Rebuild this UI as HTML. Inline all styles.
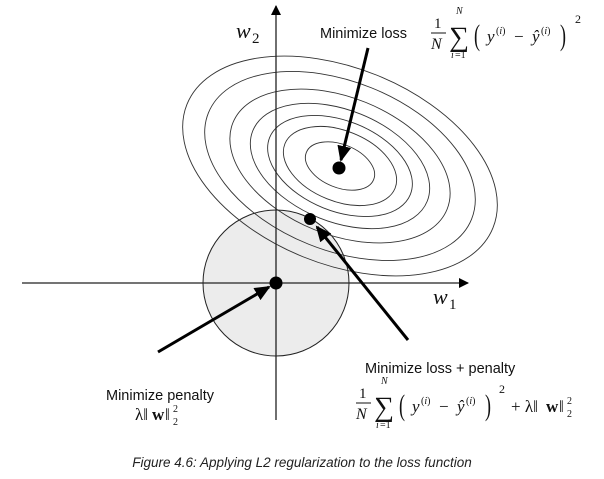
<!DOCTYPE html>
<html><head><meta charset="utf-8"><style>
html,body{margin:0;padding:0;background:#fff;width:604px;height:479px;overflow:hidden}
svg{display:block}
.s{font-family:"Liberation Sans",sans-serif;font-size:14.5px;fill:#111}
.m{font-family:"Liberation Serif",serif;fill:#111}
.i{font-style:italic}
</style></head><body>
<svg width="604" height="479" viewBox="0 0 604 479">
<defs>
<marker id="ah" markerWidth="10" markerHeight="10" refX="9" refY="5" orient="auto" markerUnits="userSpaceOnUse"><path d="M0,0 L10,5 L0,10 z" fill="#000"/></marker>
<marker id="big" markerWidth="16" markerHeight="14" refX="14" refY="7" orient="auto" markerUnits="userSpaceOnUse"><path d="M0,0 L16,7 L0,14 z" fill="#000"/></marker>
</defs>
<circle cx="276" cy="283" r="73" fill="#ececec" stroke="#222" stroke-width="1"/>
<g id="ell"></g>
<line x1="22" y1="283" x2="468" y2="283" stroke="#222" stroke-width="1.3" marker-end="url(#ah)"/>
<line x1="276" y1="420" x2="276" y2="6" stroke="#222" stroke-width="1.3" marker-end="url(#ah)"/>
<text x="236" y="38" class="m i" font-size="22">w</text>
<text x="252" y="43" class="m" font-size="15">2</text>
<text x="433" y="304" class="m i" font-size="22">w</text>
<text x="449" y="309" class="m" font-size="15">1</text>
<circle cx="339" cy="168" r="6.5" fill="#000"/>
<circle cx="310" cy="219" r="6" fill="#000"/>
<circle cx="276" cy="283" r="6.5" fill="#000"/>
<line x1="368" y1="48" x2="341" y2="160" stroke="#000" stroke-width="3" marker-end="url(#big)"/>
<line x1="408" y1="340" x2="317" y2="227" stroke="#000" stroke-width="3" marker-end="url(#big)"/>
<line x1="158" y1="352" x2="269" y2="287" stroke="#000" stroke-width="3" marker-end="url(#big)"/>
<text x="320" y="38" class="s">Minimize loss</text>

<g class="m">
<text x="434" y="28" font-size="15">1</text>
<line x1="431" y1="33" x2="446" y2="33" stroke="#111"/>
<text x="431" y="49" font-size="16" class="i">N</text>
<text x="449" y="46" font-size="28">∑</text>
<text x="456" y="14" font-size="10" class="i">N</text>
<text x="451" y="58" font-size="10" class="i">i</text>
<text x="455" y="58" font-size="10">=1</text>
<text x="474" y="45" font-size="30" transform="translate(474,45) scale(0.6,1) translate(-474,-45)">(</text>
<text x="487" y="42" font-size="17" class="i">y</text>
<text x="496" y="34" font-size="10">(<tspan class="i">i</tspan>)</text>
<text x="514" y="42" font-size="17">−</text>
<text x="532" y="42" font-size="17" class="i">ŷ</text>
<text x="541" y="34" font-size="10">(<tspan class="i">i</tspan>)</text>
<text x="560" y="45" font-size="30" transform="translate(560,45) scale(0.6,1) translate(-560,-45)">)</text>
<text x="575" y="23" font-size="12">2</text>
</g>

<text x="365" y="373" class="s">Minimize loss + penalty</text>
<g class="m">
<text x="359" y="398" font-size="15">1</text>
<line x1="356" y1="403" x2="371" y2="403" stroke="#111"/>
<text x="356" y="419" font-size="16" class="i">N</text>
<text x="374" y="416" font-size="28">∑</text>
<text x="381" y="384" font-size="10" class="i">N</text>
<text x="376" y="428" font-size="10" class="i">i</text>
<text x="380" y="428" font-size="10">=1</text>
<text x="399" y="415" font-size="30" transform="translate(399,415) scale(0.6,1) translate(-399,-415)">(</text>
<text x="412" y="412" font-size="17" class="i">y</text>
<text x="421" y="404" font-size="10">(<tspan class="i">i</tspan>)</text>
<text x="439" y="412" font-size="17">−</text>
<text x="457" y="412" font-size="17" class="i">ŷ</text>
<text x="466" y="404" font-size="10">(<tspan class="i">i</tspan>)</text>
<text x="485" y="415" font-size="30" transform="translate(485,415) scale(0.6,1) translate(-485,-415)">)</text>
<text x="499" y="393" font-size="12">2</text>
<text x="511" y="412" font-size="17">+ λ‖</text>
<text x="546" y="412" font-size="17" font-weight="bold">w</text>
<text x="559" y="412" font-size="17">‖</text>
<text x="567" y="404" font-size="10">2</text>
<text x="567" y="417" font-size="10">2</text>
</g>

<text x="106" y="400" class="s">Minimize penalty</text>
<g class="m">
<text x="135" y="420" font-size="17">λ‖</text>
<text x="152" y="420" font-size="17" font-weight="bold">w</text>
<text x="165" y="420" font-size="17">‖</text>
<text x="173" y="412" font-size="10">2</text>
<text x="173" y="425" font-size="10">2</text>
</g>
<text x="302" y="467" text-anchor="middle" font-family="Liberation Sans,sans-serif" font-size="13.5" font-style="italic" fill="#222">Figure 4.6: Applying L2 regularization to the loss function</text>
</svg>
<script>
const scales=[1,0.86,0.70,0.57,0.46,0.36,0.22];
const g=document.getElementById('ell');
scales.forEach(s=>{
 const e=document.createElementNS('http://www.w3.org/2000/svg','ellipse');
 e.setAttribute('cx',0);e.setAttribute('cy',0);
 e.setAttribute('rx',165*s);e.setAttribute('ry',98*s);
 e.setAttribute('transform','translate(340,166) rotate(22)');
 e.setAttribute('fill','none');e.setAttribute('stroke','#333');e.setAttribute('stroke-width','0.9');
 
 
 g.appendChild(e);
});
</script>
</body></html>
